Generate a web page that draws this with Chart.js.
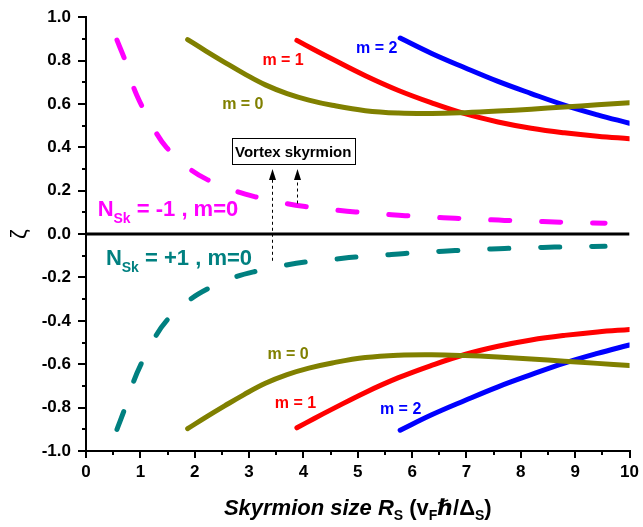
<!DOCTYPE html>
<html><head><meta charset="utf-8">
<script src="https://cdn.jsdelivr.net/npm/chart.js@4.4.0/dist/chart.umd.min.js"></script>
<style>html,body{margin:0;padding:0;background:#fff}canvas{display:block}</style>
</head><body>
<canvas id="c" width="643" height="527"></canvas>
<script>
// ---- data ----
const xTickValues = [0,1,2,3,4,5,6,7,8,9,10];
const yTickValues = [-1.0,-0.8,-0.6,-0.4,-0.2,0.0,0.2,0.4,0.6,0.8,1.0];

const m0X = [1.87, 2.2, 2.55, 2.9, 3.3, 3.7, 4.1, 4.53, 5.14, 5.75, 6.36, 6.97, 7.58, 8.19, 8.8, 9.41, 10];
const m0UpY = [0.897, 0.845, 0.792, 0.741, 0.688, 0.648, 0.618, 0.594, 0.569, 0.558, 0.556, 0.560, 0.567, 0.576, 0.586, 0.596, 0.606];
const m0LoY = [-0.897, -0.845, -0.792, -0.741, -0.688, -0.648, -0.618, -0.594, -0.569, -0.558, -0.556, -0.560, -0.567, -0.576, -0.586, -0.596, -0.606];

const m1X = [3.88, 4.2, 4.53, 5.14, 5.75, 6.36, 6.97, 7.58, 8.19, 8.8, 9.41, 10];
const m1UpY = [0.893, 0.85, 0.807, 0.73, 0.662, 0.605, 0.555, 0.517, 0.488, 0.467, 0.451, 0.44];
const m1LoY = [-0.893, -0.85, -0.807, -0.73, -0.662, -0.605, -0.555, -0.517, -0.488, -0.467, -0.451, -0.44];

const m2X = [5.78, 6.36, 6.97, 7.58, 8.19, 8.8, 9.41, 10];
const m2UpY = [0.904, 0.833, 0.767, 0.704, 0.648, 0.595, 0.55, 0.511];
const m2LoY = [-0.904, -0.833, -0.767, -0.704, -0.648, -0.595, -0.55, -0.511];

const nskX = [0.57, 0.72, 0.87, 1.04, 1.26, 1.48, 1.86, 2.24, 2.72, 3.13, 3.6, 4.03, 4.52, 4.96, 5.45, 5.87, 6.36, 6.79, 7.28, 7.7, 8.19, 8.62, 9.11, 9.55];
const nskMinusY = [0.894, 0.80, 0.68, 0.584, 0.48, 0.40, 0.31, 0.25, 0.201, 0.171, 0.145, 0.127, 0.113, 0.102, 0.093, 0.085, 0.078, 0.073, 0.068, 0.063, 0.06, 0.056, 0.053, 0.05];
const nskPlusY = [-0.9, -0.80, -0.683, -0.585, -0.48, -0.40, -0.312, -0.252, -0.20, -0.171, -0.147, -0.129, -0.117, -0.106, -0.097, -0.089, -0.082, -0.076, -0.071, -0.066, -0.063, -0.06, -0.058, -0.056];

const zeroX = [0, 10];
const zeroY = [0, 0];

// ---- helpers ----
const pts = (xs, ys) => xs.map((x, i) => ({x, y: ys[i]}));
const FONT = '"Liberation Sans", Arial, Helvetica, sans-serif';
const OLIVE = '#808000', RED = '#ff0000', BLUE = '#0000ff', MAG = '#ff00ff', TEAL = '#008080';

function solid(data, color) {
  return {data, borderColor: color, borderWidth: 5, pointRadius: 0, showLine: true,
          tension: 0.4, borderCapStyle: 'round', fill: false};
}
function dashed(data, color) {
  return {data, borderColor: color, borderWidth: 5, pointRadius: 0, showLine: true,
          tension: 0.4, borderCapStyle: 'round', borderDash: [19, 32], fill: false};
}

const datasets = [
  solid(pts(m0X, m0UpY), OLIVE),
  solid(pts(m1X, m1UpY), RED),
  solid(pts(m2X, m2UpY), BLUE),
  solid(pts(m0X, m0LoY), OLIVE),
  solid(pts(m1X, m1LoY), RED),
  solid(pts(m2X, m2LoY), BLUE),
  dashed(pts(nskX, nskMinusY), MAG),
  dashed(pts(nskX, nskPlusY), TEAL),
  {data: pts(zeroX, zeroY), borderColor: '#000', borderWidth: 3, pointRadius: 0, showLine: true, fill: false}
];

// annotation layout (data coords)
const curveLabels = [
  {t: 'm = 0', x: 2.885, y: 0.606, c: OLIVE},
  {t: 'm = 1', x: 3.626, y: 0.805, c: RED},
  {t: 'm = 2', x: 5.348, y: 0.864, c: BLUE},
  {t: 'm = 0', x: 3.718, y: -0.55, c: OLIVE},
  {t: 'm = 1', x: 3.855, y: -0.773, c: RED},
  {t: 'm = 2', x: 5.788, y: -0.80, c: BLUE}
];
const nskLabels = [
  {sign: '-1', x: 0.214, y: 0.121, c: MAG},
  {sign: '+1', x: 0.366, y: -0.105, c: TEAL}
];
const vortexBox = {x0: 2.68, x1: 4.945, y0: 0.441, y1: 0.323, text: 'Vortex skyrmion'};
const arrows = [
  {x: 3.42, yFrom: -0.123, yTo: 0.30},
  {x: 3.89, yFrom: 0.141, yTo: 0.30}
];

function drawParts(ctx, parts, x, y, align) {
  ctx.textAlign = 'left';
  let w = 0;
  parts.forEach(p => { ctx.font = p.font; p.w = ctx.measureText(p.t).width; w += p.w; });
  let cx = align === 'center' ? x - w / 2 : x;
  parts.forEach(p => { ctx.font = p.font; if (p.color) ctx.fillStyle = p.color; ctx.fillText(p.t, cx, y + (p.dy || 0)); cx += p.w; });
}

const annotPlugin = {
  id: 'annot',
  afterDraw(chart) {
    const ctx = chart.ctx, xs = chart.scales.x, ys = chart.scales.y;
    const px = v => xs.getPixelForValue(v), py = v => ys.getPixelForValue(v);
    ctx.save();
    ctx.textBaseline = 'alphabetic';
    // minor ticks
    ctx.strokeStyle = '#000'; ctx.lineWidth = 2;
    const ca = chart.chartArea;
    for (let i = 1; i < 20; i += 2) {
      const v = -1 + i * 0.1; const y = Math.round(py(v));
      ctx.beginPath(); ctx.moveTo(ca.left - 4, y); ctx.lineTo(ca.left, y); ctx.stroke();
    }
    for (let i = 1; i < 20; i += 2) {
      const x = Math.round(px(i * 0.5));
      ctx.beginPath(); ctx.moveTo(x, ca.bottom); ctx.lineTo(x, ca.bottom + 4); ctx.stroke();
    }
    // curve labels
    curveLabels.forEach(l => {
      ctx.fillStyle = l.c; ctx.font = 'bold 16px ' + FONT; ctx.textAlign = 'center';
      ctx.fillText(l.t, px(l.x), py(l.y) + 6);
    });
    nskLabels.forEach(l => {
      drawParts(ctx, [
        {t: 'N', font: 'bold 22px ' + FONT, color: l.c},
        {t: 'Sk', font: 'bold 14px ' + FONT, color: l.c, dy: 7},
        {t: ' = ' + l.sign + ' , m=0', font: 'bold 22px ' + FONT, color: l.c}
      ], px(l.x), py(l.y) + 8, 'left');
    });
    // vortex box
    const bx0 = px(vortexBox.x0), bx1 = px(vortexBox.x1), by0 = py(vortexBox.y0), by1 = py(vortexBox.y1);
    ctx.fillStyle = '#fff'; ctx.fillRect(bx0, by0, bx1 - bx0, by1 - by0);
    ctx.strokeStyle = '#000'; ctx.lineWidth = 1;
    ctx.strokeRect(Math.round(bx0) + 0.5, Math.round(by0) + 0.5, Math.round(bx1 - bx0), Math.round(by1 - by0));
    ctx.fillStyle = '#000'; ctx.font = 'bold 15px ' + FONT; ctx.textAlign = 'center';
    ctx.fillText(vortexBox.text, (bx0 + bx1) / 2, (by0 + by1) / 2 + 5.5);
    // arrows
    arrows.forEach(a => {
      const x = Math.round(px(a.x)) + 0.5, yF = py(a.yFrom), yT = py(a.yTo);
      ctx.strokeStyle = '#000'; ctx.lineWidth = 1; ctx.setLineDash([3, 3]);
      ctx.beginPath(); ctx.moveTo(x, yF); ctx.lineTo(x, yT + 9); ctx.stroke();
      ctx.setLineDash([]);
      ctx.fillStyle = '#000';
      ctx.beginPath(); ctx.moveTo(x, yT); ctx.lineTo(x - 3.5, yT + 11); ctx.lineTo(x + 3.5, yT + 11); ctx.closePath(); ctx.fill();
    });
    // x-axis title
    ctx.fillStyle = '#000';
    drawParts(ctx, [
      {t: 'Skyrmion size R', font: 'italic bold 22px ' + FONT},
      {t: 'S', font: 'bold 14px ' + FONT, dy: 5},
      {t: ' (v', font: 'bold 22px ' + FONT},
      {t: 'F', font: 'bold 14px ' + FONT, dy: 5},
      {t: 'ℏ', font: 'italic bold 22px "DejaVu Sans", ' + FONT},
      {t: '/Δ', font: 'bold 22px ' + FONT},
      {t: 'S', font: 'bold 14px ' + FONT, dy: 5},
      {t: ')', font: 'bold 22px ' + FONT}
    ], (ca.left + ca.right) / 2, 515, 'center');
    // y-axis title
    ctx.save();
    ctx.translate(19, (ca.top + ca.bottom) / 2);
    ctx.rotate(-Math.PI / 2);
    ctx.textAlign = 'center'; ctx.font = '22px ' + FONT; ctx.fillStyle = '#000';
    ctx.fillText('ζ', 0, 7);
    ctx.restore();
    ctx.restore();
  }
};

new Chart(document.getElementById('c'), {
  type: 'scatter',
  data: {datasets},
  plugins: [annotPlugin],
  options: {
    responsive: false,
    animation: false,
    events: [],
    layout: {padding: {top: 11, right: 11, left: 0, bottom: 0}},
    plugins: {legend: {display: false}, tooltip: {enabled: false}},
    scales: {
      x: {
        type: 'linear', min: 0, max: 10,
        afterFit: s => { s.height = 76; },
        afterBuildTicks: s => { s.ticks = xTickValues.map(v => ({value: v})); },
        ticks: {autoSkip: false, maxRotation: 0, color: '#000', padding: 4,
                font: {family: FONT, size: 17, weight: 'bold'}, callback: v => String(v)},
        grid: {drawOnChartArea: false, drawTicks: true, tickLength: 7, color: '#000', lineWidth: 2},
        border: {color: '#000', width: 2}
      },
      y: {
        type: 'linear', min: -1, max: 1,
        afterFit: s => { s.width = 86; },
        afterBuildTicks: s => { s.ticks = yTickValues.map(v => ({value: v})); },
        ticks: {autoSkip: false, color: '#000', padding: 7,
                font: {family: FONT, size: 17, weight: 'bold'}, callback: v => Number(v).toFixed(1)},
        grid: {drawOnChartArea: false, drawTicks: true, tickLength: 8, color: '#000', lineWidth: 2},
        border: {color: '#000', width: 2}
      }
    }
  }
});
</script>
</body></html>
